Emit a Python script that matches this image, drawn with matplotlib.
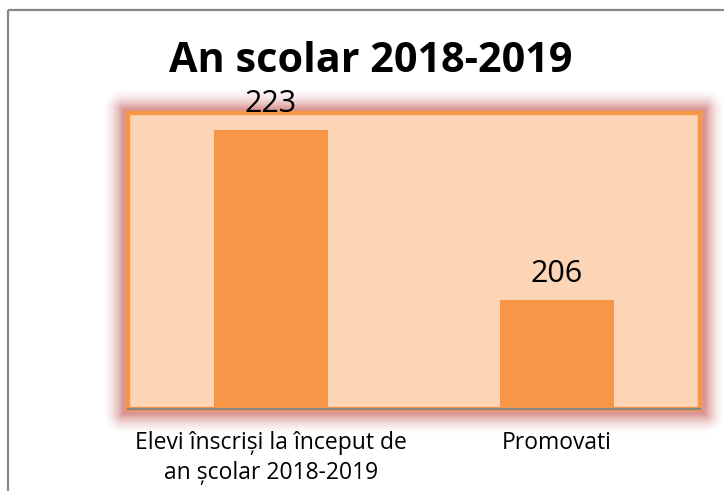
import numpy as np
import matplotlib
matplotlib.use("Agg")
import matplotlib.pyplot as plt
from matplotlib.patches import Rectangle

# ---- data ----
categories = ["Elevi înscriși la început de\nan școlar 2018-2019", "Promovati"]
values = [223, 206]
title = "An scolar 2018-2019"
y_min, y_max = 195.1, 224.7

W, H = 724, 491
DPI = 100
plt.rcParams['font.family'] = ['Open Sans', 'DejaVu Sans']

fig = plt.figure(figsize=(W / DPI, H / DPI), dpi=DPI)
fig.patch.set_facecolor("white")

# plot area in pixels (from top-left)
px0, px1 = 128, 700
py0, py1 = 113, 409

# ---- glow behind plot area ----
gax = fig.add_axes([0, 0, 1, 1], zorder=0)
gax.set_axis_off()
yy, xx = np.mgrid[0:H, 0:W] + 0.5
bx0, bx1, by0, by1 = 123, 705, 109, 414
dx = np.maximum(np.maximum(bx0 - xx, 0), xx - bx1)
dy = np.maximum(np.maximum(by0 - yy, 0), yy - by1)
d = np.sqrt(dx ** 2 + dy ** 2)
alpha = np.clip(1 - d / 21.0, 0, 1) ** 1.8 * 0.6
img = np.zeros((H, W, 4))
img[..., 0] = 0xC0 / 255
img[..., 1] = 0x50 / 255
img[..., 2] = 0x4D / 255
img[..., 3] = alpha
gax.imshow(img, extent=(0, W, H, 0), interpolation="bilinear", aspect="auto")
gax.set_xlim(0, W)
gax.set_ylim(H, 0)

# outer chart border (gray)
gax.add_patch(Rectangle((8, 9.5), W + 20, H + 20, fill=False,
                        edgecolor="#878787", linewidth=1.6, zorder=5))

# ---- main axes ----
ax = fig.add_axes([px0 / W, 1 - py1 / H, (px1 - px0) / W, (py1 - py0) / H], zorder=2)
ax.set_facecolor("#FBD5B5")
x = np.arange(len(categories))
ax.bar(x, values, width=0.4, color="#F79646", zorder=2)
ax.set_xlim(-0.5, len(categories) - 0.5)
ax.set_ylim(y_min, y_max)
for s in ax.spines.values():
    s.set_color("#F79646")
    s.set_linewidth(3.2)
ax.axhline(y_min, color="#868686", linewidth=1.6, zorder=4, clip_on=False)
ax.set_yticks([])
ax.set_xticks(x)
ax.set_xticklabels(categories, fontsize=16.5, color="black", linespacing=1.3)
ax.tick_params(axis="x", length=0, pad=16)

for xi, v in zip(x, values):
    ax.annotate(str(v), (xi, v), xytext=(0, 13), textcoords="offset points",
                ha="center", va="baseline", fontsize=22, color="black",
                annotation_clip=False)

fig.text(371 / W, 1 - 62 / H, title, ha="center", va="center",
         fontsize=29.8, fontweight="bold", color="black")

fig.savefig("out.png", dpi=DPI)
